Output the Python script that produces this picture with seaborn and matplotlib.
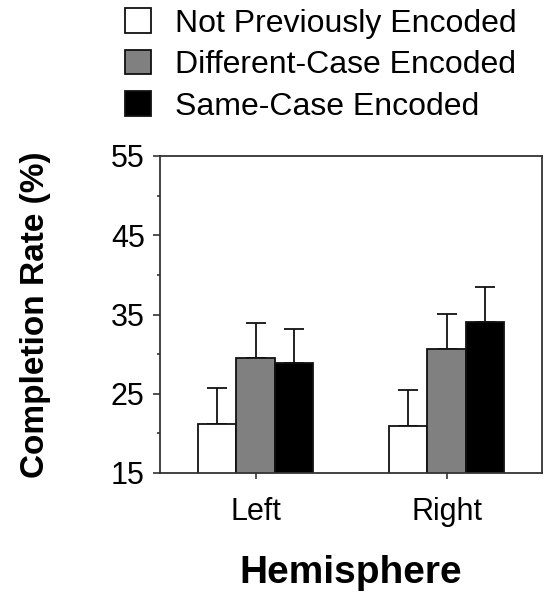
import numpy as np
import pandas as pd
import matplotlib
matplotlib.use("Agg")
import matplotlib.pyplot as plt
import seaborn as sns

hemispheres = ["Left", "Right"]
conditions = ["Not Previously Encoded", "Different-Case Encoded", "Same-Case Encoded"]
not_prev = [21.2, 20.9]
diff_case = [29.5, 30.7]
same_case = [28.9, 34.1]
not_prev_err = [4.5, 4.6]
diff_case_err = [4.4, 4.4]
same_case_err = [4.3, 4.4]
yticks = [15, 25, 35, 45, 55]
colors = ["#ffffff", "#808080", "#000000"]

values = [not_prev, diff_case, same_case]
errors = [not_prev_err, diff_case_err, same_case_err]
rows = []
for c, vals, errs in zip(conditions, values, errors):
    for h, v, e in zip(hemispheres, vals, errs):
        rows.append({"Hemisphere": h, "Condition": c, "Rate": v, "Err": e})
df = pd.DataFrame(rows)

sns.set_style("ticks")
plt.rcParams["font.family"] = ["Liberation Sans", "DejaVu Sans"]
plt.rcParams["text.color"] = "black"
plt.rcParams["axes.labelcolor"] = "black"

fig = plt.figure(figsize=(5.44, 5.95), dpi=100)
ax = fig.add_axes([160/544, 1-473/595, 382/544, 317/595])

sns.barplot(data=df, x="Hemisphere", y="Rate", hue="Condition",
            order=hemispheres, hue_order=conditions, palette=colors,
            width=0.6, gap=0, errorbar=None, edgecolor="#111111",
            linewidth=1.3, ax=ax, legend=True)

# error bars (upper only) at bar centers
for cont, cond in zip(ax.containers, conditions):
    sub = df[df["Condition"] == cond].set_index("Hemisphere").loc[hemispheres]
    xs = [p.get_x() + p.get_width()/2 for p in cont.patches]
    ax.errorbar(xs, sub["Rate"].values,
                yerr=[np.zeros(len(xs)), sub["Err"].values],
                fmt="none", ecolor="#111111", elinewidth=1.3,
                capsize=7, capthick=1.3, zorder=1)
for p in ax.patches:
    p.set_zorder(2)

ax.set_xlim(-0.5, 1.5)
ax.set_ylim(15, 55)
ax.set_yticks(yticks)
ax.set_yticks([20, 30, 40, 50], minor=True)
ax.tick_params(axis="y", which="major", length=5, width=1.1, labelsize=22, pad=6, colors="#222222", labelcolor="black")
ax.tick_params(axis="y", which="minor", length=2.5, width=1.1, colors="#222222")
ax.tick_params(axis="x", length=4.5, width=1.1, labelsize=22, pad=13, colors="#222222", labelcolor="black")
for s in ax.spines.values():
    s.set_visible(True)
    s.set_linewidth(1.3)
    s.set_color("#333333")

ax.set_xlabel("Hemisphere", fontsize=28, fontweight="bold", labelpad=20)
ax.set_ylabel("Completion Rate (%)", fontsize=24, fontweight="bold", labelpad=43)

handles, labels = ax.get_legend_handles_labels()
ax.get_legend().remove()
fig.legend(handles, labels, loc="upper left", bbox_to_anchor=(122/544, 1 - 5/595),
           frameon=False, fontsize=23, handlelength=0.8, handleheight=0.8,
           handletextpad=0.75, labelspacing=0.35, borderpad=0.1, borderaxespad=0)

fig.savefig("out.png", dpi=100)
